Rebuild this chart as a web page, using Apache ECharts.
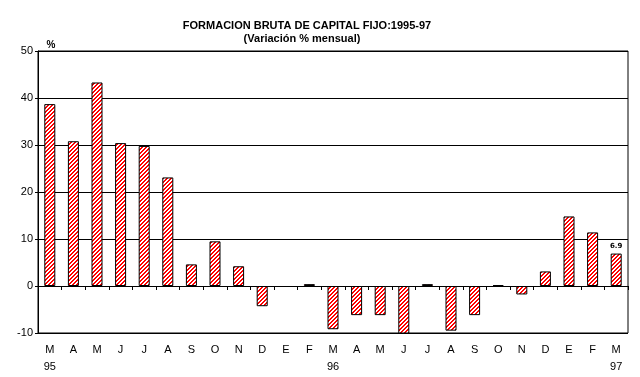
<!DOCTYPE html>
<html>
<head>
<meta charset="utf-8">
<script src="https://cdn.jsdelivr.net/npm/echarts@6/dist/echarts.min.js"></script>
<style>
  html, body { margin: 0; padding: 0; background: #fff; }
  #chart { width: 640px; height: 377px; }
</style>
</head>
<body>
<div id="chart"></div>
<script>
// meses (marzo 95 - marzo 97)
var months = ["M", "A", "M", "J", "J", "A", "S", "O", "N", "D", "E", "F",
              "M", "A", "M", "J", "J", "A", "S", "O", "N", "D", "E", "F", "M"];
var years = ["95", "", "", "", "", "", "", "", "", "", "", "",
             "96", "", "", "", "", "", "", "", "", "", "", "", "97"];
// variación % mensual (E-96 sin barra visible)
var values = [38.7, 30.8, 43.3, 30.4, 29.8, 23.1, 4.6, 9.5, 4.2, -4.3, null, 0.4,
              -9.2, -6.2, -6.2, -10.4, 0.4, -9.5, -6.2, 0.2, -1.8, 3.1, 14.8, 11.4, 6.9];
var yTicks = [-10, 0, 10, 20, 30, 40, 50];
var lastLabel = "6.9";

// trama rayada roja/blanca
function stripes() {
  var c = document.createElement("canvas");
  c.width = 4; c.height = 4;
  var ctx = c.getContext("2d");
  var img = ctx.createImageData(4, 4);
  for (var y = 0; y < 4; y++) {
    for (var x = 0; x < 4; x++) {
      var i = (y * 4 + x) * 4;
      var red = (x + y) % 4 < 2;
      img.data[i] = 255;
      img.data[i + 1] = red ? 0 : 255;
      img.data[i + 2] = red ? 0 : 255;
      img.data[i + 3] = 255;
    }
  }
  ctx.putImageData(img, 0, 0);
  return c;
}

var chart = echarts.init(document.getElementById("chart"));
var pattern = { image: stripes(), repeat: "repeat" };

var labels = months.map(function (m, i) {
  return years[i] ? m + "\n" + years[i] : m;
});

chart.setOption({
  animation: false,
  title: [
    {
      text: "FORMACION BRUTA DE CAPITAL FIJO:1995-97",
      left: 302, top: 15, textAlign: "center",
      textStyle: { fontFamily: "Liberation Sans", fontSize: 11, fontWeight: "bold", color: "#000" }
    },
    {
      text: "(Variación % mensual)",
      left: 297, top: 28, textAlign: "center",
      textStyle: { fontFamily: "Liberation Sans", fontSize: 11, fontWeight: "bold", color: "#000" }
    },
    {
      text: "%",
      left: 46, top: 35, textAlign: "center",
      textStyle: { fontFamily: "Liberation Sans", fontSize: 10, fontWeight: "bold", color: "#000" }
    }
  ],
  grid: {
    left: 38, right: 12, top: 51, bottom: 44,
    show: true, borderColor: "#000", borderWidth: 1
  },
  xAxis: [
    {
      type: "category",
      data: months,
      axisLine: { onZero: true, lineStyle: { color: "#000", width: 1 } },
      axisTick: { show: true, length: 4, lineStyle: { color: "#000" } },
      axisLabel: { show: false }
    },
    {
      type: "category",
      data: labels,
      position: "bottom",
      axisLine: { show: false, onZero: false },
      axisTick: { show: false },
      axisLabel: {
        interval: 0, margin: 8,
        fontFamily: "Liberation Sans", fontSize: 11, color: "#000",
        lineHeight: 17
      }
    }
  ],
  yAxis: {
    type: "value",
    min: yTicks[0], max: yTicks[yTicks.length - 1], interval: 10,
    axisLine: { show: true, lineStyle: { color: "#000" } },
    axisTick: { show: true, length: 3, lineStyle: { color: "#000" } },
    splitLine: { lineStyle: { color: "#000", width: 1 } },
    axisLabel: { margin: 5, fontFamily: "Liberation Sans", fontSize: 11, color: "#000" }
  },
  series: [
    {
      type: "bar",
      xAxisIndex: 0,
      barWidth: 11,
      clip: true,
      data: values.map(function (v, i) {
        var item = { value: v };
        if (i === values.length - 1) {
          item.label = {
            show: true, position: "top", distance: 4,
            formatter: lastLabel,
            fontFamily: "DejaVu Sans", fontSize: 7, fontWeight: "bold", color: "#000"
          };
        }
        return item;
      }),
      itemStyle: { color: pattern, borderColor: "#000", borderWidth: 1 }
    }
  ]
});
</script>
</body>
</html>
